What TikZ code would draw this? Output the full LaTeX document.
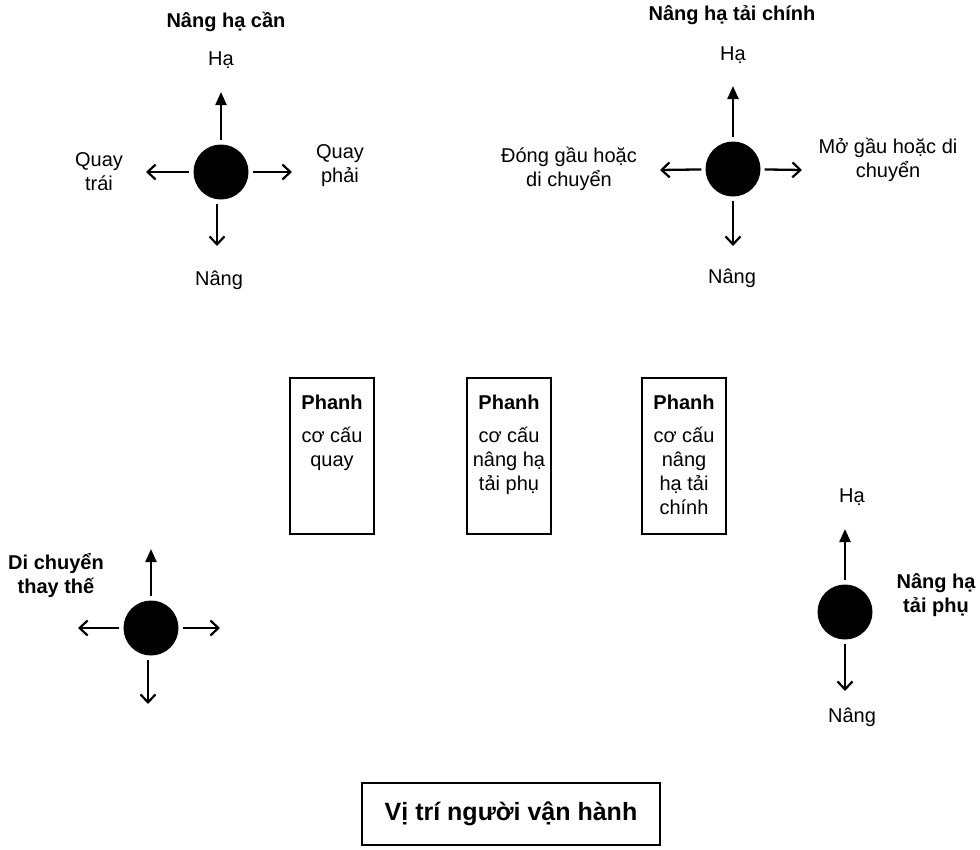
\documentclass[tikz,border=0pt]{standalone}
\usepackage{fontspec}
\setmainfont{Liberation Sans}
\usetikzlibrary{arrows.meta}
\begin{document}
\begin{tikzpicture}[x=1pt,y=-1pt,
  dot/.style={circle,fill=black,minimum size=55pt,inner sep=0pt},
  arr/.style={line width=2.3pt,shorten <=4pt,-{Straight Barb[length=8pt,width=15pt,line width=2.2pt]}},
  uparr/.style={line width=2.3pt,shorten <=4pt,-{Triangle[length=13pt,width=11pt]}},
  lbl/.style={font=\fontsize{20}{24}\selectfont,align=center,inner sep=0pt},
  ttl/.style={font=\fontsize{20}{24}\selectfont\bfseries,align=center,inner sep=0pt},
  brake/.style={draw,line width=2pt,minimum width=84pt,minimum height=156pt,inner sep=0pt},
  opbox/.style={draw,line width=2pt,minimum width=298pt,minimum height=62pt,font=\fontsize{25}{28}\selectfont\bfseries}
]
\useasboundingbox (0,0) rectangle (980,849);

% ---- Nang ha can (top left)
\node[dot] (c1) at (221,172) {};
\coordinate (c1u) at (221,92);
\coordinate (c1d) at (217,246);
\coordinate (c1l) at (146,172);
\coordinate (c1r) at (292,172);
\draw[uparr] (c1) -- (c1u);
\draw[arr] (c1.south) ++(-4pt,0) -- (c1d);
\draw[arr] (c1) -- (c1l);
\draw[arr] (c1) -- (c1r);
\node[ttl] (t1) at (226,22) {Nâng hạ cần};
\node[lbl] (h1) at (221,60) {Hạ};
\node[lbl] (n1) at (219,280) {Nâng};
\node[lbl] (l1) at (99,172) {Quay\\trái};
\node[lbl] (r1) at (340,166) {Quay\\phải};

% ---- Nang ha tai chinh (top right)
\node[dot] (c2) at (733,169) {};
\coordinate (c2u) at (733,86);
\coordinate (c2d) at (733,246);
\coordinate (c2l) at (660,170);
\coordinate (c2r) at (802,170);
\draw[uparr] (c2) -- (c2u);
\draw[arr] (c2) -- (c2d);
\draw[arr] (c2) -- (c2l);
\draw[arr] (c2) -- (c2r);
\node[ttl] (t2) at (732,15) {Nâng hạ tải chính};
\node[lbl] (h2) at (733,55) {Hạ};
\node[lbl] (n2) at (732,278) {Nâng};
\node[lbl] (l2) at (569,169) {Đóng gầu hoặc\\di chuyển};
\node[lbl] (r2) at (888,160) {Mở gầu hoặc di\\chuyển};

% ---- brake boxes
\node[brake] (b1) at (332,456) {};
\node[brake] (b2) at (509,456) {};
\node[brake] (b3) at (684,456) {};
\node[ttl,anchor=center] (p1) at ([yshift=-25pt]b1.north) {Phanh};
\node[ttl,anchor=center] (p2) at ([yshift=-25pt]b2.north) {Phanh};
\node[ttl,anchor=center] (p3) at ([yshift=-25pt]b3.north) {Phanh};
\node[lbl,anchor=north] (q1) at ([yshift=-50pt]b1.north) {cơ cấu\\quay};
\node[lbl,anchor=north] (q2) at ([yshift=-50pt]b2.north) {cơ cấu\\nâng hạ\\tải phụ};
\node[lbl,anchor=north] (q3) at ([yshift=-50pt]b3.north) {cơ cấu\\nâng\\hạ tải\\chính};

% ---- Di chuyen thay the (bottom left)
\node[dot] (c3) at (151,628) {};
\coordinate (c3u) at (151,549);
\coordinate (c3d) at (148,704);
\coordinate (c3l) at (78,628);
\coordinate (c3r) at (220,628);
\draw[uparr] (c3) -- (c3u);
\draw[arr] (c3.south) ++(-3pt,0) -- (c3d);
\draw[arr] (c3) -- (c3l);
\draw[arr] (c3) -- (c3r);
\node[ttl] (t3) at (56,575) {Di chuyển\\thay thế};

% ---- Nang ha tai phu (bottom right)
\node[dot] (c4) at (845,612) {};
\coordinate (c4u) at (845,529);
\coordinate (c4d) at (845,691);
\draw[uparr] (c4) -- (c4u);
\draw[arr] (c4) -- (c4d);
\node[lbl] (h4) at (852,497) {Hạ};
\node[lbl] (n4) at (852,717) {Nâng};
\node[ttl] (t4) at (936,595) {Nâng hạ\\tải phụ};

% ---- operator position
\node[opbox] (op) at (511,814) {Vị trí người vận hành};
\end{tikzpicture}
\end{document}
